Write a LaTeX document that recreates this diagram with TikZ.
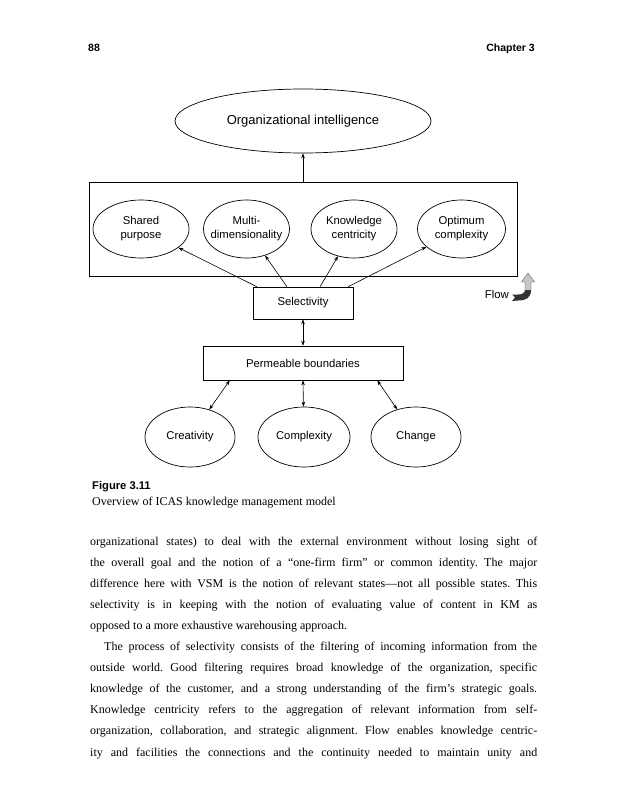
\documentclass[tikz,border=0pt]{standalone}
\usepackage{fontspec}
\setmainfont{Liberation Serif}
\newfontfamily\dsans{Liberation Sans}
\usetikzlibrary{shapes.geometric,arrows.meta,calc}
\frenchspacing
\begin{document}
\begin{tikzpicture}[x=1pt,y=-1pt,
  lbl/.style={font=\dsans\fontsize{11.3}{14}\selectfont, align=center, inner sep=0pt},
  ell/.style={ellipse, draw, line width=0.7pt, inner sep=0pt, minimum height=58pt},
  box/.style={rectangle, draw, line width=0.7pt, lbl},
  arr/.style={-{Stealth[length=5pt,width=3.6pt]}, line width=0.6pt},
  darr/.style={{Stealth[length=5pt,width=3.6pt]}-{Stealth[length=5pt,width=3.6pt]}, line width=0.6pt},
  bodyline/.style={anchor=base west, inner sep=0pt, font=\fontsize{12}{14}\selectfont},
  head/.style={inner sep=0pt, font=\dsans\bfseries\fontsize{10.5}{12}\selectfont},
]
\fill[white] (0,0) rectangle (622,800);
\useasboundingbox (0,0) rectangle (622,800);

% header
\node[head, anchor=base west] (pg) at (88,52) {88};
\node[head, anchor=base east] (ch) at (535,52) {Chapter 3};

% top ellipse
\node[ell, minimum width=256pt, minimum height=64pt,
  label={[lbl, font=\dsans\fontsize{13}{15}\selectfont]center:Organizational intelligence}] (oi) at (303,121) {};

% big frame
\node[draw, line width=0.7pt, minimum width=428pt, minimum height=94pt, inner sep=0pt] (fr) at (303,229) {};

\node[ell, minimum width=96pt, label={[lbl]center:Shared\\purpose}] (sp) at (141,229) {};
\node[ell, minimum width=86pt, label={[lbl]center:Multi-\\dimensionality}] (md) at (246.5,229) {};
\node[ell, minimum width=86pt, label={[lbl]center:Knowledge\\centricity}] (kc) at (354,229) {};
\node[ell, minimum width=88pt, label={[lbl]center:Optimum\\complexity}] (oc) at (461.5,229) {};

% selectivity and boundaries
\node[box, minimum width=100pt, minimum height=32pt] (sel) at (303,303) {Selectivity};
\node[box, minimum width=200pt, minimum height=34pt] (pb) at (303,363) {Permeable boundaries};

% bottom ellipses
\node[ell, minimum width=90pt, minimum height=60pt, label={[lbl]center:Creativity}] (cr) at (190,437) {};
\node[ell, minimum width=92pt, minimum height=60pt, label={[lbl]center:Complexity}] (cx) at (304,437) {};
\node[ell, minimum width=90pt, minimum height=60pt, label={[lbl]center:Change}] (cg) at (416,437) {};

% connectors
\draw[arr] (fr.north) -- (oi.south);
\draw[arr] ($(sel.north west)!0.04!(sel.north east)$) -- (sp);
\draw[arr] ($(sel.north west)!0.34!(sel.north east)$) -- (md);
\draw[arr] ($(sel.north west)!0.67!(sel.north east)$) -- (kc);
\draw[arr] ($(sel.north west)!0.95!(sel.north east)$) -- (oc);
\draw[darr] (sel.south) -- (pb.north);
\draw[darr] ($(pb.south west)!0.135!(pb.south east)$) -- (cr);
\draw[darr] (pb.south) -- (cx);
\draw[darr] ($(pb.south west)!0.87!(pb.south east)$) -- (cg);

% flow
\node[lbl, anchor=base east] (fl) at (509,298) {Flow};
\fill[gray!45, draw=gray!60!black, line width=0.3pt]
  (525,291) -- (525,282) -- (521.5,282) -- (528,273) -- (534.5,282) -- (531,282) -- (531,291) -- cycle;
\fill[gray!40!black]
  (531,290) .. controls (531,298) and (526,300.5) .. (518,300.5) -- (512,301) -- (515,297.5) -- (512,294.5) -- (518,294.5) .. controls (522,294.5) and (525,293) .. (525,290) -- cycle;

% caption
\node[anchor=base west, inner sep=0pt, font=\dsans\bfseries\fontsize{11.2}{13}\selectfont] (fig) at (92,489) {Figure 3.11};
\node[anchor=base west, inner sep=0pt, font=\fontsize{12}{14}\selectfont] (cap) at (92,505) {Overview of ICAS knowledge management model};

% body text
\node[bodyline] (b1) at (90,545) {\makebox[447pt][s]{organizational states) to deal with the external environment without losing sight of}};
\node[bodyline] (b2) at (90,566.1) {\makebox[447pt][s]{the overall goal and the notion of a “one-firm firm” or common identity. The major}};
\node[bodyline] (b3) at (90,587.2) {\makebox[447pt][s]{difference here with VSM is the notion of relevant states---not all possible states. This}};
\node[bodyline] (b4) at (90,608.3) {\makebox[447pt][s]{selectivity is in keeping with the notion of evaluating value of content in KM as}};
\node[bodyline] (b5) at (90,629.4) {opposed to a more exhaustive warehousing approach.};
\node[bodyline] (b6) at (104,650.5) {\makebox[433pt][s]{The process of selectivity consists of the filtering of incoming information from the}};
\node[bodyline] (b7) at (90,671.6) {\makebox[447pt][s]{outside world. Good filtering requires broad knowledge of the organization, specific}};
\node[bodyline] (b8) at (90,692.7) {\makebox[447pt][s]{knowledge of the customer, and a strong understanding of the firm’s strategic goals.}};
\node[bodyline] (b9) at (90,713.8) {\makebox[447pt][s]{Knowledge centricity refers to the aggregation of relevant information from self-}};
\node[bodyline] (b10) at (90,734.9) {\makebox[447pt][s]{organization, collaboration, and strategic alignment. Flow enables knowledge centric-}};
\node[bodyline] (b11) at (90,756) {\makebox[447pt][s]{ity and facilities the connections and the continuity needed to maintain unity and}};
\end{tikzpicture}
\end{document}
